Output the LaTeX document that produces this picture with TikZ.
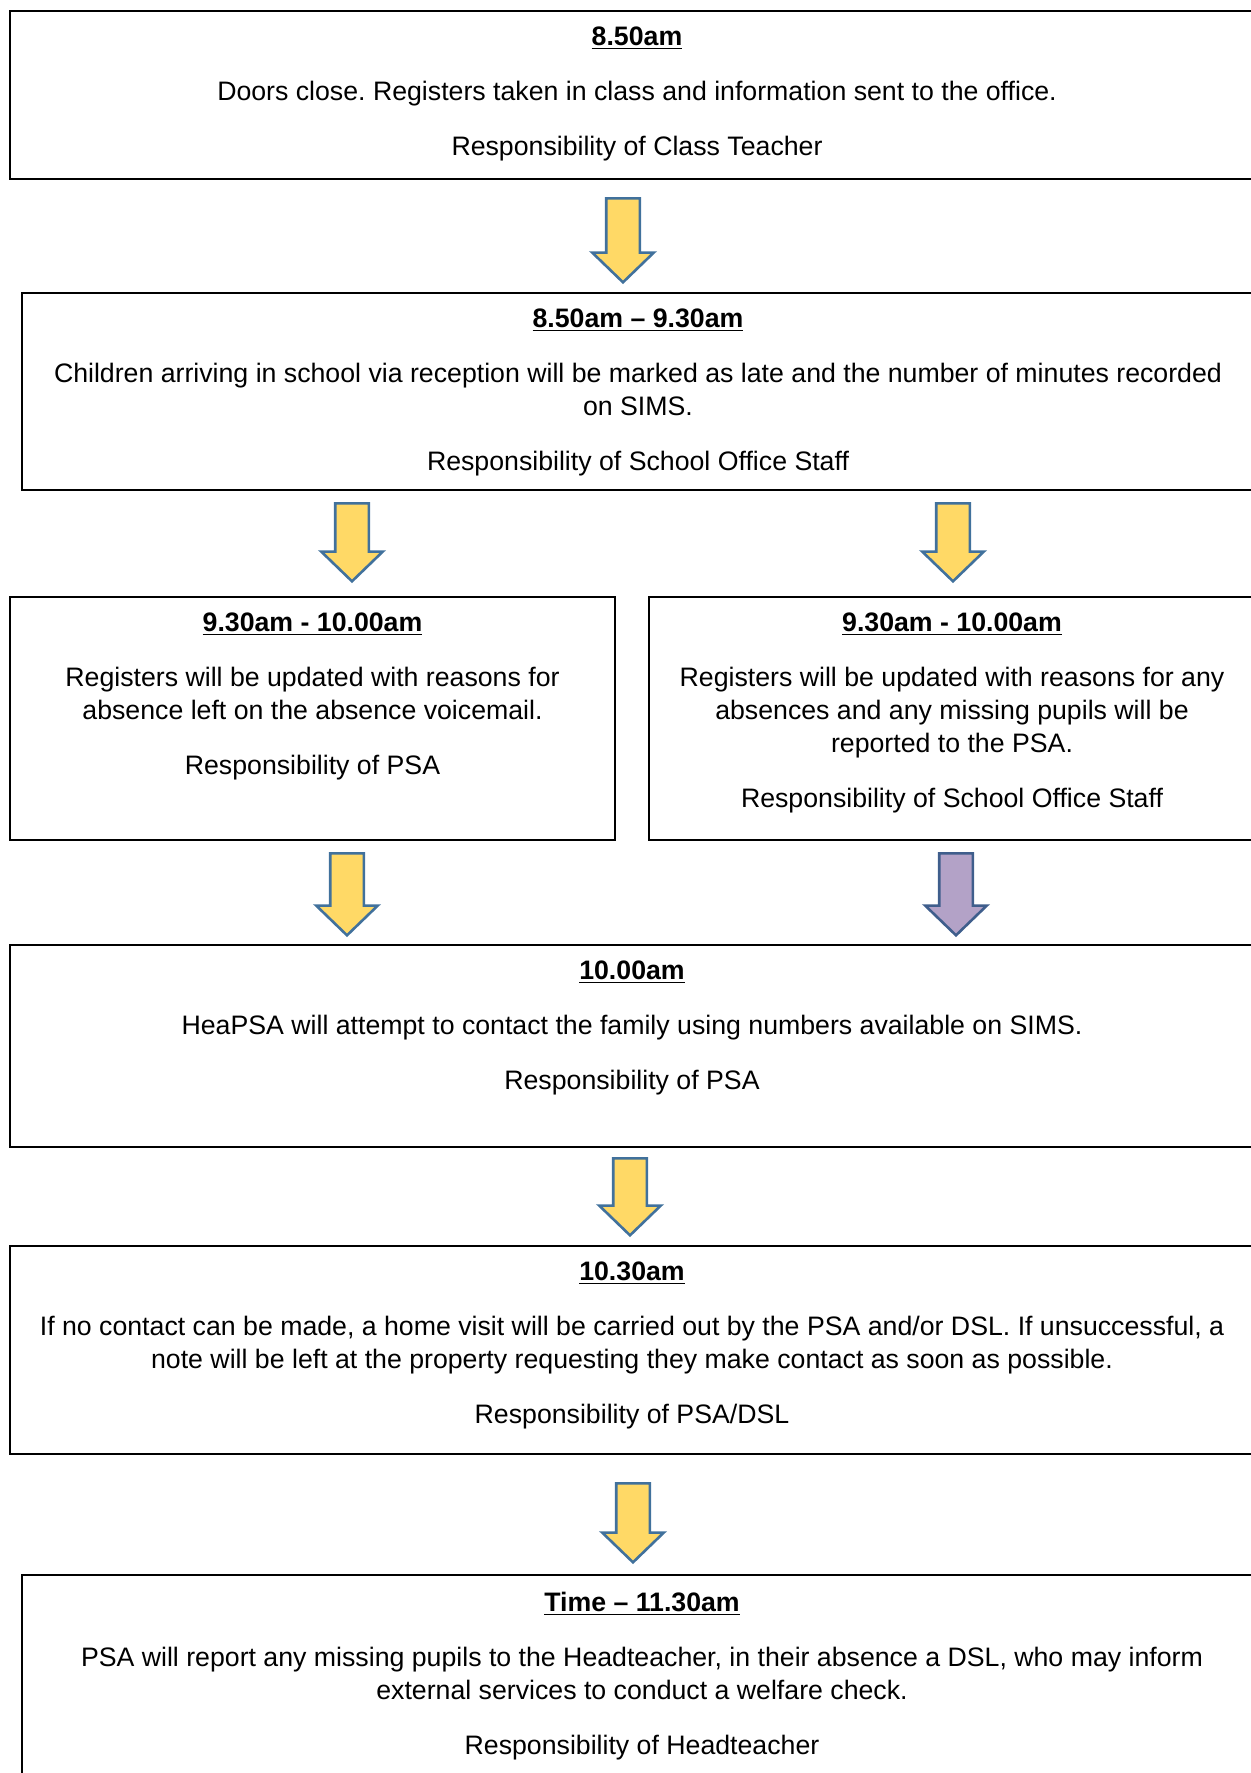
\documentclass[tikz,border=0pt]{standalone}
\usepackage{fontspec}
\setmainfont{Liberation Sans}
\usetikzlibrary{positioning,shapes.arrows}
\definecolor{arrowfill}{HTML}{FFD966}
\definecolor{arrowline}{HTML}{41719C}
\definecolor{lilacfill}{HTML}{B3A2C7}
\definecolor{lilacline}{HTML}{3F5E8C}
\newcommand{\when}[1]{\underline{\textbf{#1}}}
\frenchspacing

\begin{document}
\begin{tikzpicture}[x=0.5pt,y=-0.5pt,
  flowbox/.style={draw,line width=1pt,inner sep=0pt,anchor=north west},
  boxtext/.style={align=center,inner sep=0pt,font=\fontsize{13.35pt}{16.5pt}\selectfont},
  downarrow/.style={single arrow,draw=arrowline,fill=arrowfill,line width=1.3pt,
    minimum width=29.5pt,minimum height=40pt,single arrow head extend=7pt,
    single arrow tip angle=92,inner xsep=0pt,inner ysep=7.75pt,rotate=-90,anchor=tail}]
\path[use as bounding box,clip] (0,0) rectangle (1251,1773);
% boxes
\node[flowbox,minimum width=627pt,minimum height=84pt] (b1) at (9,10) {};
\node[flowbox,minimum width=616pt,minimum height=98.5pt] (b2) at (21,292) {};
\node[flowbox,minimum width=302.5pt,minimum height=121.5pt] (b3) at (9,596) {};
\node[flowbox,minimum width=303pt,minimum height=121.5pt] (b4) at (648,596) {};
\node[flowbox,minimum width=622pt,minimum height=101pt] (b5) at (9,944) {};
\node[flowbox,minimum width=622pt,minimum height=104pt] (b6) at (9,1245) {};
\node[flowbox,minimum width=620pt,minimum height=125pt] (b7) at (21,1574) {};
% texts
\node[boxtext,below=8pt of b1.north] (t1) {\when{8.50am}\\[11pt]
  Doors close. Registers taken in class and information sent to the office.\\[11pt]
  Responsibility of Class Teacher};
\node[boxtext,below=8pt of b2.north] (t2) {\when{8.50am – 9.30am}\\[11pt]
  Children arriving in school via reception will be marked as late and the number of minutes recorded\\
  on SIMS.\\[11pt]
  Responsibility of School Office Staff};
\node[boxtext,below=8pt of b3.north] (t3) {\when{9.30am - 10.00am}\\[11pt]
  Registers will be updated with reasons for\\
  absence left on the absence voicemail.\\[11pt]
  Responsibility of PSA};
\node[boxtext,below=8pt of b4.north] (t4) {\when{9.30am - 10.00am}\\[11pt]
  Registers will be updated with reasons for any\\
  absences and any missing pupils will be\\
  reported to the PSA.\\[11pt]
  Responsibility of School Office Staff};
\node[boxtext,below=8pt of b5.north] (t5) {\when{10.00am}\\[11pt]
  HeaPSA will attempt to contact the family using numbers available on SIMS.\\[11pt]
  Responsibility of PSA};
\node[boxtext,below=8pt of b6.north] (t6) {\when{10.30am}\\[11pt]
  If no contact can be made, a home visit will be carried out by the PSA and/or DSL. If unsuccessful, a\\
  note will be left at the property requesting they make contact as soon as possible.\\[11pt]
  Responsibility of PSA/DSL};
\node[boxtext,below=9pt of b7.north] (t7) {\when{Time – 11.30am}\\[11pt]
  PSA will report any missing pupils to the Headteacher, in their absence a DSL, who may inform\\
  external services to conduct a welfare check.\\[11pt]
  Responsibility of Headteacher};
% arrows
\node[downarrow,minimum height=42pt] (a1) at (623,197) {};
\node[downarrow,minimum height=39pt] (a2) at (352,502) {};
\node[downarrow,minimum height=39pt] (a3) at (953,502) {};
\node[downarrow,minimum height=41pt] (a4) at (347,852) {};
\node[downarrow,minimum height=41pt,draw=lilacline,fill=lilacfill] (a5) at (956,852) {};
\node[downarrow,minimum height=38.5pt] (a6) at (630,1157) {};
\node[downarrow,minimum height=39.5pt] (a7) at (633,1482) {};
\end{tikzpicture}
\end{document}
